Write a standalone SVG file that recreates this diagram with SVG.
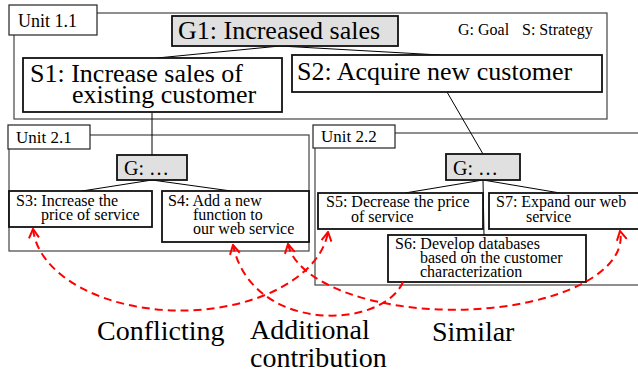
<svg xmlns="http://www.w3.org/2000/svg" width="638" height="372" viewBox="0 0 638 372" font-family="'Liberation Serif', 'Times New Roman', 'DejaVu Serif', serif">
<style>
text{font-family:"Liberation Serif","Times New Roman","DejaVu Serif",serif;fill:#000}
.unit{fill:none;stroke:#444;stroke-width:1.2}
.lbl{fill:#fff;stroke:#222;stroke-width:1.2}
.goal{fill:#e0e0e0;stroke:#111;stroke-width:1.8}
.strat{fill:#fff;stroke:#111;stroke-width:1.8}
.big{font-size:26px}
.sm{font-size:16px}
.ul{font-size:17px}
.g{font-size:20px}
.c{stroke:#000;stroke-width:1;fill:none}
.rel{stroke:#f00;stroke-width:2;fill:none;stroke-dasharray:8,5}
.rt{font-size:28px}
</style>
<defs>
<marker id="ah" viewBox="0 0 12 12" refX="11" refY="6" markerWidth="12" markerHeight="12" markerUnits="userSpaceOnUse" orient="auto-start-reverse">
<path d="M2,1 L11,6 L2,11" fill="none" stroke="#f00" stroke-width="2"/>
</marker>
</defs>

<g id="unit11">
<rect class="unit" x="14" y="13" width="593" height="106"/>
<rect class="lbl" x="9" y="5" width="88" height="30"/>
<text class="ul" x="18" y="27" style="font-size:18px">Unit 1.1</text>
<text x="458" y="35" style="font-size:16px">G: Goal</text>
<text x="522" y="35" style="font-size:16px">S: Strategy</text>
</g>
<g id="unit21">
<rect class="unit" x="9" y="135" width="300" height="116"/>
<rect class="lbl" x="8" y="125" width="82" height="24"/>
<text class="ul" x="16" y="143">Unit 2.1</text>
</g>
<g id="unit22">
<rect class="unit" x="315" y="133" width="330" height="152"/>
<rect class="lbl" x="313" y="125" width="82" height="23"/>
<text class="ul" x="321" y="142">Unit 2.2</text>
</g>

<g id="connectors">
<path class="c" d="M280,46 L157,58 M280,46 L440,55"/>
<path class="c" d="M152,113 L152,155"/>
<path class="c" d="M447,92 L483,154"/>
<path class="c" d="M152,180 L82,191 M152,180 L231,191"/>
<path class="c" d="M483,180 L405,193 M483,180 L560,193 M483,180 L484,235"/>
</g>

<g id="G1">
<rect class="goal" x="172" y="16" width="226" height="30"/>
<text class="big" x="178" y="39">G1: Increased sales</text>
</g>
<g id="S1">
<rect class="strat" x="23" y="58" width="259" height="54"/>
<text class="big" x="30" y="82">S1: Increase sales of</text>
<text class="big" x="72" y="103">existing customer</text>
</g>
<g id="S2">
<rect class="strat" x="292" y="55" width="310" height="37"/>
<text class="big" x="297" y="80">S2: Acquire new customer</text>
</g>
<g id="G21">
<rect class="goal" x="117" y="155" width="70" height="25"/>
<text class="g" x="124" y="175">G: …</text>
</g>
<g id="S3">
<rect class="strat" x="9" y="191" width="143" height="36"/>
<text class="sm" x="16" y="206">S3: Increase the</text>
<text class="sm" x="41" y="220">price of service</text>
</g>
<g id="S4">
<rect class="strat" x="162" y="191" width="147" height="51"/>
<text class="sm" x="168" y="206">S4: Add a new</text>
<text class="sm" x="193" y="220">function to</text>
<text class="sm" x="193" y="234">our web service</text>
</g>
<g id="G22">
<rect class="goal" x="446" y="154" width="74" height="26"/>
<text class="g" x="453" y="175">G: …</text>
</g>
<g id="S5">
<rect class="strat" x="318" y="193" width="165" height="36"/>
<text class="sm" x="326" y="207">S5: Decrease the price</text>
<text class="sm" x="351" y="222">of service</text>
</g>
<g id="S7">
<rect class="strat" x="489" y="193" width="160" height="36"/>
<text class="sm" x="496" y="207">S7: Expand our web</text>
<text class="sm" x="526" y="222">service</text>
</g>
<g id="S6">
<rect class="strat" x="388" y="235" width="198" height="47"/>
<text class="sm" x="395" y="249">S6: Develop databases</text>
<text class="sm" x="420" y="263">based on the customer</text>
<text class="sm" x="420" y="277">characterization</text>
</g>

<g id="relations">
<path class="rel" d="M33,229 A148,87 0 0 0 328,232" marker-start="url(#ah)" marker-end="url(#ah)"/>
<path class="rel" d="M403,282 C382,330 252,334 233,245" marker-end="url(#ah)"/>
<path class="rel" d="M288,244 A166,72 0 0 0 620,231" marker-start="url(#ah)" marker-end="url(#ah)"/>
<text class="rt" x="97" y="340">Conflicting</text>
<text class="rt" x="250" y="339">Additional</text>
<text class="rt" x="250" y="367">contribution</text>
<text class="rt" x="432" y="341">Similar</text>
</g>
</svg>
